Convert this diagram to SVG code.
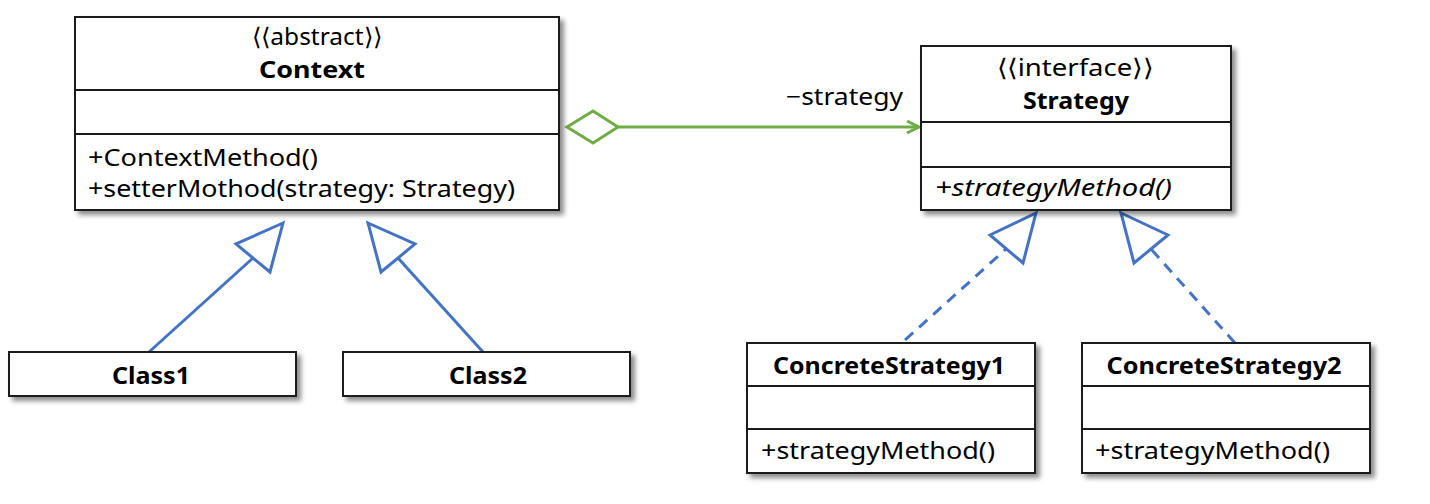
<svg xmlns="http://www.w3.org/2000/svg" width="1430" height="504" viewBox="0 0 1430 504">
<defs>
<filter id="sh" x="-10%" y="-10%" width="130%" height="140%">
<feDropShadow dx="4" dy="4" stdDeviation="2.5" flood-color="#000" flood-opacity="0.45"/>
</filter>
</defs>
<style>
.box{fill:#fff;stroke:#1a1a1a;stroke-width:2}
.div{stroke:#1a1a1a;stroke-width:2}
text{font-family:"Noto Sans","Liberation Sans",sans-serif;font-size:24px;fill:#000}
.b{font-weight:bold}
.i{font-style:italic}
.c{text-anchor:middle}
.gen{fill:none;stroke:#4472C4;stroke-width:3}
.tri{fill:#fff;stroke:#4472C4;stroke-width:3;stroke-linejoin:miter}
.dash{stroke-dasharray:11 8}
.agg{fill:none;stroke:#70AD47;stroke-width:3}
</style>
<g id="connectors">
<line class="gen" x1="149" y1="352" x2="253" y2="258"/>
<polygon class="tri" points="283,223 236,244 270,272"/>
<line class="gen" x1="483" y1="352" x2="398" y2="258"/>
<polygon class="tri" points="368,223 415,244 381,272"/>
<line class="gen dash" x1="905" y1="340" x2="1006" y2="249"/>
<polygon class="tri" points="1036,213 990,235 1023,263"/>
<line class="gen dash" x1="1235" y1="343" x2="1151" y2="249"/>
<polygon class="tri" points="1121,213 1168,235 1134,263"/>
<polygon class="agg" points="567,127 593,111 618,127 593,143" fill="#fff"/>
<line class="agg" x1="618" y1="127" x2="919" y2="127"/>
<polyline class="agg" points="907,121 919,127 907,133"/>
<text x="903" y="105" text-anchor="end" textLength="117" lengthAdjust="spacingAndGlyphs">−strategy</text>
</g>
<g id="Context">
<rect class="box" x="75" y="17" width="484" height="193" filter="url(#sh)"/>
<line class="div" x1="75" y1="90" x2="559" y2="90"/>
<line class="div" x1="75" y1="134" x2="559" y2="134"/>
<text class="c" x="317" y="45" textLength="130" lengthAdjust="spacingAndGlyphs">⟨⟨abstract⟩⟩</text>
<text class="c b" x="312" y="78" textLength="106" lengthAdjust="spacingAndGlyphs">Context</text>
<text x="88" y="166" textLength="230" lengthAdjust="spacingAndGlyphs">+ContextMethod()</text>
<text x="88" y="197" textLength="427" lengthAdjust="spacingAndGlyphs">+setterMothod(strategy: Strategy)</text>
</g>
<g id="Strategy">
<rect class="box" x="921" y="46" width="310" height="164" filter="url(#sh)"/>
<line class="div" x1="921" y1="122" x2="1231" y2="122"/>
<line class="div" x1="921" y1="167" x2="1231" y2="167"/>
<text class="c" x="1075" y="76" textLength="156" lengthAdjust="spacingAndGlyphs">⟨⟨interface⟩⟩</text>
<text class="c b" x="1076" y="109" textLength="106" lengthAdjust="spacingAndGlyphs">Strategy</text>
<text class="i" x="935" y="196" textLength="237" lengthAdjust="spacingAndGlyphs">+strategyMethod()</text>
</g>
<g id="Class1">
<rect class="box" x="9" y="352" width="287" height="44" filter="url(#sh)"/>
<text class="c b" x="151" y="384" textLength="78" lengthAdjust="spacingAndGlyphs">Class1</text>
</g>
<g id="Class2">
<rect class="box" x="343" y="352" width="287" height="44" filter="url(#sh)"/>
<text class="c b" x="488" y="384" textLength="78" lengthAdjust="spacingAndGlyphs">Class2</text>
</g>
<g id="ConcreteStrategy1">
<rect class="box" x="747" y="343" width="288" height="130" filter="url(#sh)"/>
<line class="div" x1="747" y1="386" x2="1035" y2="386"/>
<line class="div" x1="747" y1="429" x2="1035" y2="429"/>
<text class="c b" x="889" y="374" textLength="232" lengthAdjust="spacingAndGlyphs">ConcreteStrategy1</text>
<text x="761" y="459" textLength="234" lengthAdjust="spacingAndGlyphs">+strategyMethod()</text>
</g>
<g id="ConcreteStrategy2">
<rect class="box" x="1082" y="343" width="288" height="130" filter="url(#sh)"/>
<line class="div" x1="1082" y1="386" x2="1370" y2="386"/>
<line class="div" x1="1082" y1="429" x2="1370" y2="429"/>
<text class="c b" x="1224" y="374" textLength="235" lengthAdjust="spacingAndGlyphs">ConcreteStrategy2</text>
<text x="1095" y="459" textLength="235" lengthAdjust="spacingAndGlyphs">+strategyMethod()</text>
</g>
</svg>
